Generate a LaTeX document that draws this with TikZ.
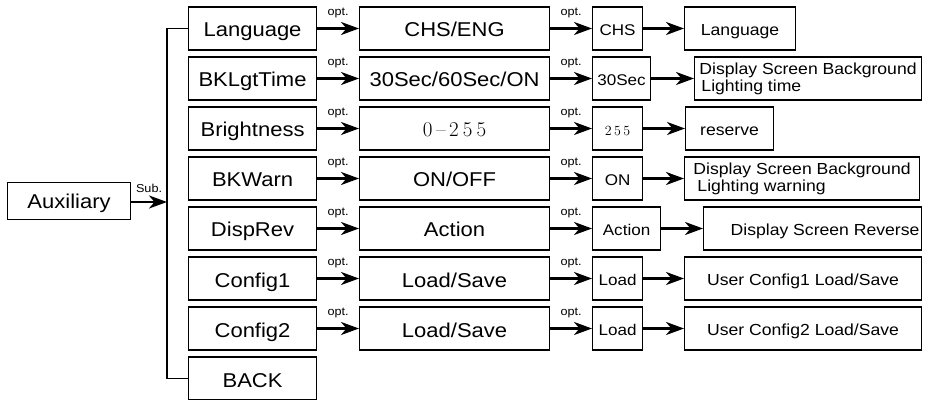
\documentclass[tikz,border=0pt]{standalone}
\usepackage{fontspec}
\newfontfamily\arial{Liberation Sans}[FakeStretch=1.1]
\usetikzlibrary{arrows.meta}
\tikzset{
  boxbase/.style={draw=black, line width=1.1pt, inner sep=0pt, minimum height=43pt, anchor=west},
  colA/.style={boxbase, minimum width=128pt, text height=17pt, text depth=0pt, font=\arial\fontsize{20}{24}\selectfont},
  colB/.style={boxbase, minimum width=190pt, text height=17pt, text depth=0pt, font=\arial\fontsize{20}{24}\selectfont},
  colC/.style={boxbase, text height=14pt, text depth=0pt, font=\arial\fontsize{15.5}{18}\selectfont},
  colD/.style={boxbase, font=\arial\fontsize{16}{17}\selectfont},
  oneline/.style={text height=14.4pt, text depth=0pt},
  serifB/.style={font=\fontsize{21}{24}\selectfont},
  serifC/.style={font=\fontsize{14}{17}\selectfont},
  arr/.style={line width=2.3pt, -{Stealth[length=18pt,width=13pt,inset=5.5pt]}},
  optlbl/.style={midway, anchor=south, inner sep=0pt, yshift=9pt, font=\arial\fontsize{11.5}{13}\selectfont},
  bracket/.style={line width=1.1pt}
}
\begin{document}
\begin{tikzpicture}[x=1pt,y=1pt]
\useasboundingbox (0,0) rectangle (925,399);
% Auxiliary
\node[boxbase, minimum width=123pt, minimum height=37pt, text height=14.3pt, text depth=0pt, font=\arial\fontsize{20}{24}\selectfont] (aux) at (7,198) {Auxiliary};
\coordinate (bj) at (167,197);
% column A
\node[colA] (a0) at (188,370.5) {Language};
\node[colA] (a1) at (188,320.5) {BKLgtTime};
\node[colA] (a2) at (188,270.5) {Brightness};
\node[colA] (a3) at (188,220.5) {BKWarn};
\node[colA] (a4) at (188,170.5) {DispRev};
\node[colA] (a5) at (188,120.5) {Config1};
\node[colA] (a6) at (188,70.5) {Config2};
\node[colA] (a7) at (188,20.5) {BACK};
% column B
\node[colB] (b0) at (359,370.5) {CHS/ENG};
\node[colB] (b1) at (359,320.5) {30Sec/60Sec/ON};
\node[colB, serifB] (b2) at (359,270.5) {0\kern3.5pt--\kern3.5pt2\kern4pt5\kern4pt5};
\node[colB] (b3) at (359,220.5) {ON/OFF};
\node[colB] (b4) at (359,170.5) {Action};
\node[colB] (b5) at (359,120.5) {Load/Save};
\node[colB] (b6) at (359,70.5) {Load/Save};
% column C
\node[colC, minimum width=50pt] (c0) at (592,370.5) {CHS};
\node[colC, minimum width=58pt] (c1) at (592,320.5) {30Sec};
\node[colC, minimum width=50pt, serifC] (c2) at (592,270.5) {2\kern2.5pt5\kern2.5pt5};
\node[colC, minimum width=50pt] (c3) at (592,220.5) {ON};
\node[colC, minimum width=68pt] (c4) at (592,170.5) {Action};
\node[colC, minimum width=50pt] (c5) at (592,120.5) {Load};
\node[colC, minimum width=50pt] (c6) at (592,70.5) {Load};
% column D
\node[colD, oneline, minimum width=111pt] (d0) at (684,370.5) {Language};
\node[colD, minimum width=227pt, align=left] (d1) at (694,320.5) {Display Screen Background\\\hspace*{2pt}Lighting time};
\node[colD, oneline, minimum width=88pt] (d2) at (685,270.5) {reserve};
\node[colD, minimum width=235pt, align=left] (d3) at (684,220.5) {Display Screen Background\\\hspace*{4pt}Lighting warning};
\node[colD, oneline, minimum width=218pt] (d4) at (703,170.5) {\hspace*{25pt}Display Screen Reverse};
\node[colD, oneline, minimum width=237pt] (d5) at (684,120.5) {User Config1 Load/Save};
\node[colD, oneline, minimum width=237pt] (d6) at (684,70.5) {User Config2 Load/Save};
% bracket and sub arrow
\draw[bracket] (a0.west) -- ++(-21,0) |- (a7.west);
\draw[arr] (aux.east |- bj) -- node[optlbl, yshift=-1pt]{Sub.} (bj);
% arrows
\foreach \i in {0,...,6}{
  \draw[arr] (a\i) -- node[optlbl]{opt.} (b\i);
  \draw[arr] (b\i) -- node[optlbl]{opt.} (c\i);
  \draw[arr] (c\i) -- (d\i);
}
\end{tikzpicture}
\end{document}
